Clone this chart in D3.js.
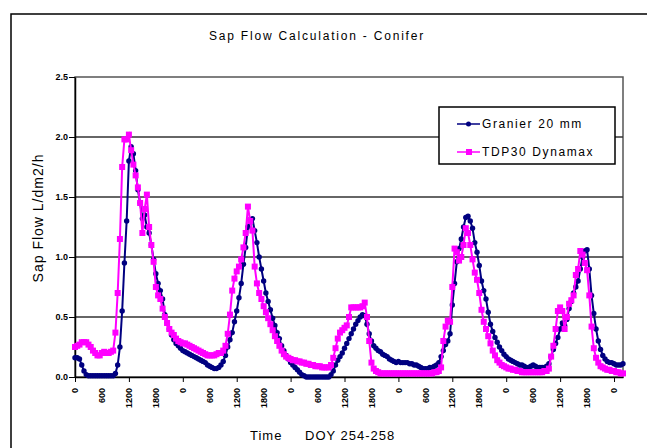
<!DOCTYPE html>
<html>
<head>
<meta charset="utf-8">
<script src="https://cdn.jsdelivr.net/npm/d3@7"></script>
<style>
  html, body { margin: 0; padding: 0; background: #fff; }
  svg { display: block; font-family: "Liberation Sans", Arial, sans-serif; }
</style>
</head>
<body>
<div id="chart"></div>
<script>
// half-hourly readings, DOY 254 00:00 -> DOY 259 01:00 (one row = 6 h)
const granier = [
  0.16, 0.16, 0.15, 0.10, 0.05, 0.02, 0.01, 0.01, 0.01, 0.01, 0.01, 0.01,
  0.01, 0.01, 0.01, 0.01, 0.01, 0.01, 0.03, 0.10, 0.25, 0.55, 0.95, 1.30,
  1.80, 1.92, 1.86, 1.72, 1.56, 1.45, 1.32, 1.35, 1.25, 1.20, 1.10, 0.98,
  0.86, 0.78, 0.72, 0.65, 0.52, 0.45, 0.40, 0.35, 0.31, 0.28, 0.26, 0.24,
  0.22, 0.21, 0.20, 0.19, 0.18, 0.17, 0.16, 0.15, 0.14, 0.13, 0.12, 0.10,
  0.09, 0.08, 0.07, 0.07, 0.08, 0.10, 0.13, 0.18, 0.25, 0.31, 0.37, 0.46,
  0.55, 0.66, 0.78, 0.94, 1.08, 1.25, 1.31, 1.32, 1.22, 1.12, 1.00, 0.90,
  0.80, 0.70, 0.63, 0.56, 0.49, 0.43, 0.37, 0.32, 0.26, 0.22, 0.18, 0.15,
  0.12, 0.10, 0.08, 0.06, 0.04, 0.02, 0.01, 0.00, 0.00, 0.00, 0.00, 0.00,
  0.00, 0.00, 0.00, 0.00, 0.00, 0.00, 0.02, 0.05, 0.10, 0.14, 0.17, 0.20,
  0.24, 0.28, 0.32, 0.36, 0.40, 0.44, 0.47, 0.50, 0.52, 0.51, 0.44, 0.36,
  0.30, 0.26, 0.24, 0.22, 0.21, 0.19, 0.18, 0.17, 0.15, 0.14, 0.13, 0.12,
  0.13, 0.12, 0.12, 0.12, 0.12, 0.11, 0.11, 0.10, 0.10, 0.09, 0.08, 0.07,
  0.07, 0.07, 0.08, 0.08, 0.09, 0.10, 0.12, 0.17, 0.22, 0.27, 0.30, 0.36,
  0.60, 0.78, 0.96, 1.07, 1.15, 1.25, 1.33, 1.34, 1.30, 1.24, 1.12, 1.04,
  0.93, 0.80, 0.72, 0.65, 0.54, 0.44, 0.38, 0.33, 0.29, 0.25, 0.22, 0.19,
  0.17, 0.15, 0.14, 0.13, 0.12, 0.11, 0.10, 0.10, 0.09, 0.08, 0.08, 0.09,
  0.10, 0.09, 0.08, 0.08, 0.08, 0.08, 0.09, 0.11, 0.17, 0.23, 0.28, 0.33,
  0.40, 0.45, 0.43, 0.48, 0.57, 0.63, 0.70, 0.75, 0.80, 0.90, 1.00, 1.05,
  1.06, 0.90, 0.68, 0.53, 0.40, 0.30, 0.23, 0.18, 0.15, 0.13, 0.12, 0.12,
  0.11, 0.10, 0.10, 0.10, 0.11
];

const tdp30 = [
  0.25, 0.26, 0.27, 0.29, 0.29, 0.29, 0.27, 0.25, 0.22, 0.20, 0.18, 0.18,
  0.20, 0.21, 0.20, 0.20, 0.21, 0.22, 0.37, 0.70, 1.15, 1.75, 1.98, 1.98,
  2.02, 1.89, 1.77, 1.68, 1.58, 1.45, 1.20, 1.40, 1.52, 1.25, 1.10, 0.96,
  0.75, 0.68, 0.65, 0.57, 0.50, 0.45, 0.40, 0.37, 0.35, 0.32, 0.30, 0.29,
  0.28, 0.28, 0.27, 0.26, 0.25, 0.24, 0.23, 0.22, 0.21, 0.20, 0.19, 0.18,
  0.18, 0.18, 0.18, 0.19, 0.20, 0.20, 0.22, 0.26, 0.36, 0.52, 0.72, 0.82,
  0.88, 0.92, 0.98, 1.08, 1.20, 1.42, 1.30, 1.22, 0.92, 0.78, 0.70, 0.65,
  0.59, 0.54, 0.49, 0.44, 0.39, 0.34, 0.30, 0.26, 0.22, 0.19, 0.17, 0.16,
  0.15, 0.14, 0.14, 0.13, 0.13, 0.12, 0.12, 0.11, 0.11, 0.10, 0.10, 0.09,
  0.09, 0.09, 0.08, 0.08, 0.08, 0.08, 0.10, 0.16, 0.24, 0.32, 0.37, 0.39,
  0.41, 0.43, 0.50, 0.58, 0.58, 0.58, 0.58, 0.58, 0.59, 0.62, 0.50, 0.30,
  0.12, 0.07, 0.05, 0.04, 0.03, 0.03, 0.03, 0.03, 0.03, 0.03, 0.03, 0.03,
  0.03, 0.03, 0.03, 0.03, 0.03, 0.03, 0.03, 0.03, 0.03, 0.03, 0.03, 0.03,
  0.03, 0.03, 0.03, 0.03, 0.04, 0.04, 0.05, 0.08, 0.30, 0.42, 0.47, 0.46,
  0.75, 1.07, 1.04, 0.97, 1.00, 1.10, 1.24, 1.20, 1.10, 0.98, 0.87, 0.81,
  0.70, 0.56, 0.46, 0.40, 0.34, 0.28, 0.22, 0.18, 0.14, 0.12, 0.10, 0.09,
  0.08, 0.07, 0.07, 0.06, 0.06, 0.05, 0.05, 0.04, 0.04, 0.04, 0.04, 0.04,
  0.04, 0.04, 0.04, 0.04, 0.04, 0.05, 0.05, 0.07, 0.17, 0.26, 0.40, 0.55,
  0.58, 0.55, 0.40, 0.50, 0.61, 0.64, 0.68, 0.85, 0.90, 1.05, 1.02, 0.95,
  0.89, 0.68, 0.42, 0.24, 0.16, 0.12, 0.09, 0.08, 0.07, 0.06, 0.06, 0.05,
  0.05, 0.04, 0.04, 0.03, 0.03
];

const seriesNames = ["Granier 20 mm", "TDP30 Dynamax"];
const clockLabels = ["0", "600", "1200", "1800"];
const yTicks = [0, 0.5, 1.0, 1.5, 2.0, 2.5];

(function () {
  "use strict";

  const width = 647;
  const height = 448;
  const plot = { left: 75, right: 623, top: 77, bottom: 377 };
  const colors = ["#000080", "#ff00ff"];

  const svg = d3.select("#chart")
    .append("svg")
    .attr("width", width)
    .attr("height", height);

  // chart frame (runs past the window on the right and bottom)
  svg.append("rect")
    .attr("x", 11).attr("y", 14)
    .attr("width", 700).attr("height", 500)
    .attr("fill", "#fff")
    .attr("stroke", "#000")
    .attr("stroke-width", 1.5);

  const x = d3.scaleLinear().domain([0, granier.length - 1]).range([plot.left, plot.right]);
  const y = d3.scaleLinear().domain([0, 2.5]).range([plot.bottom, plot.top]);

  // plot border
  svg.append("rect")
    .attr("x", plot.left).attr("y", plot.top)
    .attr("width", plot.right - plot.left)
    .attr("height", plot.bottom - plot.top)
    .attr("fill", "none")
    .attr("stroke", "#555")
    .attr("stroke-width", 1.5);

  // gridlines
  svg.append("g")
    .selectAll("line")
    .data(yTicks.filter((v) => v > 0 && v < 2.5))
    .join("line")
    .attr("x1", plot.left).attr("x2", plot.right)
    .attr("y1", y).attr("y2", y)
    .attr("stroke", "#333")
    .attr("stroke-width", 1.5);

  // y axis
  svg.append("g")
    .attr("transform", `translate(${plot.left},0)`)
    .call(d3.axisLeft(y).tickValues(yTicks).tickFormat(d3.format(".1f")).tickSize(6).tickSizeOuter(0).tickPadding(1))
    .call((g) => g.select(".domain").attr("stroke", "#000").attr("stroke-width", 1.5))
    .call((g) => g.selectAll(".tick line").attr("stroke", "#000"))
    .call((g) => g.selectAll(".tick text")
      .attr("font-family", "Liberation Sans, Arial, sans-serif")
      .attr("font-size", 9).attr("font-weight", "bold").attr("fill", "#000"));

  // x axis: tick marks every 12 h, labels every 6 h
  const xAxis = svg.append("g")
    .attr("transform", `translate(0,${plot.bottom})`)
    .call(d3.axisBottom(x).tickValues(d3.range(0, granier.length, 24)).tickFormat("").tickSize(5).tickSizeOuter(0))
    .call((g) => g.select(".domain").attr("stroke", "#000").attr("stroke-width", 1.5))
    .call((g) => g.selectAll(".tick line").attr("stroke", "#000"));

  xAxis.append("g")
    .selectAll("text")
    .data(d3.range(0, granier.length, 12))
    .join("text")
    .attr("transform", (i) => `translate(${x(i)},11) rotate(-90)`)
    .attr("dy", "0.35em")
    .attr("text-anchor", "end")
    .attr("font-size", 9)
    .attr("font-weight", "bold")
    .attr("fill", "#000")
    .text((i) => clockLabels[(i / 12) % clockLabels.length]);

  // series
  const series = [granier, tdp30];
  const line = d3.line().x((d, i) => x(i)).y((d) => y(d));

  series.forEach((values, k) => {
    const g = svg.append("g");
    g.append("path")
      .datum(values)
      .attr("d", line)
      .attr("fill", "none")
      .attr("stroke", colors[k])
      .attr("stroke-width", 2);

    if (k === 0) {
      g.selectAll("circle")
        .data(values)
        .join("circle")
        .attr("cx", (d, i) => x(i))
        .attr("cy", (d) => y(d))
        .attr("r", 2.7)
        .attr("fill", colors[k]);
    } else {
      g.selectAll("rect")
        .data(values)
        .join("rect")
        .attr("x", (d, i) => x(i) - 3)
        .attr("y", (d) => y(d) - 3)
        .attr("width", 6)
        .attr("height", 6)
        .attr("fill", colors[k]);
    }
  });

  // legend
  const legend = svg.append("g").attr("transform", "translate(439,107)");
  legend.append("rect")
    .attr("width", 176).attr("height", 57)
    .attr("fill", "#fff")
    .attr("stroke", "#000")
    .attr("stroke-width", 1.5);

  const items = legend.selectAll("g.item")
    .data(seriesNames)
    .join("g")
    .attr("class", "item")
    .attr("transform", (_, k) => `translate(0,${17 + k * 28})`);

  items.append("line")
    .attr("x1", 18).attr("x2", 41)
    .attr("stroke", (_, k) => colors[k])
    .attr("stroke-width", 1.5);

  items.filter((_, k) => k === 0).append("circle")
    .attr("cx", 29.5).attr("r", 2.5).attr("fill", colors[0]);
  items.filter((_, k) => k === 1).append("rect")
    .attr("x", 27).attr("y", -3).attr("width", 6).attr("height", 6).attr("fill", colors[1]);

  items.append("text")
    .attr("x", 43)
    .attr("dy", "0.36em")
    .attr("font-size", 12)
    .attr("letter-spacing", 1.6)
    .attr("fill", "#000")
    .text((d) => d);

  // titles
  svg.append("text")
    .attr("x", 317).attr("y", 39.5)
    .attr("text-anchor", "middle")
    .attr("font-size", 12)
    .attr("letter-spacing", 1.8)
    .text("Sap Flow Calculation - Conifer");

  svg.append("text")
    .attr("transform", "translate(43,218) rotate(-90)")
    .attr("text-anchor", "middle")
    .attr("font-size", 14)
    .attr("letter-spacing", 1)
    .text("Sap Flow L/dm2/h");

  svg.append("text")
    .attr("x", 250).attr("y", 440)
    .attr("font-size", 13)
    .attr("letter-spacing", 1)
    .text("Time");

  svg.append("text")
    .attr("x", 305).attr("y", 440)
    .attr("font-size", 13)
    .attr("letter-spacing", 1)
    .text("DOY 254-258");
})();
</script>
</body>
</html>
